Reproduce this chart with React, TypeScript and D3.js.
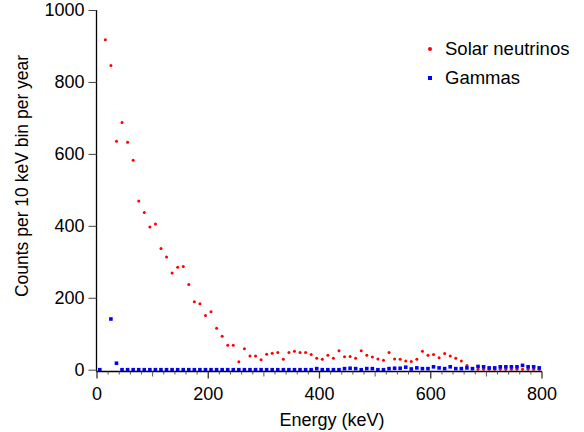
import React, { useEffect, useRef } from 'react';
import * as d3 from 'd3';

// counts per 10 keV bin, first bin centred at 5 keV
const solarNeutrinos = [
  0, 917, 846, 635, 687, 632, 582, 469, 437, 397,
  405, 337, 313, 269, 285, 287, 237, 189, 183, 151,
  161, 115, 93, 68, 68, 22, 58, 38, 38, 28,
  43, 46, 48, 29, 48, 51, 48, 48, 42, 32,
  29, 40, 32, 53, 36, 37, 32, 53, 40, 35,
  30, 26, 48, 30, 29, 24, 23, 29, 51, 40,
  42, 33, 45, 38, 32, 24, 12, 3, 1, 1,
  1, 1, 1, 1, 1, 1, 1, 1, 1, 1,
];

const gammas: (number | null)[] = [
  0, null, 141, 18, 0, 0, 0, 0, 0, 0,
  0, 0, 0, 0, 0, 0, 0, 0, 0, 0,
  0, 0, 0, 0, 0, 0, 0, 0, 0, 0,
  0, 0, 0, 0, 0, 0, 0, 0, 0, 3,
  0, 0, 0, 0, 3, 4, 3, 0, 3, 3,
  0, 0, 3, 4, 4, 7, 2, 5, 3, 3,
  8, 5, 3, 8, 3, 3, 5, 3, 9, 8,
  5, 5, 8, 8, 8, 8, 12, 8, 8, 5,
];

const binWidth = 10;
const xTicks = [0, 200, 400, 600, 800];
const yTicks = [0, 200, 400, 600, 800, 1000];
const legendItems = ['Solar neutrinos', 'Gammas'];

const FONT = '"Liberation Sans", Arial, Helvetica, sans-serif';

function Chart() {
  const ref = useRef<SVGSVGElement>(null);

  useEffect(() => {
    const svg = d3.select(ref.current);
    svg.selectAll('*').remove();

    const x = d3.scaleLinear().domain([0, 800]).range([97, 542]);
    const y = d3.scaleLinear().domain([0, 1000]).range([369.7, 10]);
    const energy = (i: number) => i * binWidth + binWidth / 2;

    // red dots first, blue squares on top
    svg.append('g')
      .selectAll('circle')
      .data(solarNeutrinos)
      .join('circle')
      .attr('cx', (d, i) => x(energy(i)))
      .attr('cy', d => y(d))
      .attr('r', 1.5)
      .attr('fill', '#ff0000');

    const gammaPts = gammas
      .map((v, i) => ({ e: energy(i), v }))
      .filter(d => d.v !== null) as { e: number; v: number }[];

    const sq = 3.6;
    svg.append('g')
      .selectAll('rect')
      .data(gammaPts)
      .join('rect')
      .attr('x', d => x(d.e) - sq / 2)
      .attr('y', d => y(d.v) - sq / 2)
      .attr('width', sq)
      .attr('height', sq)
      .attr('fill', '#0000ff');

    // y axis
    const yAxis = svg.append('g')
      .attr('transform', 'translate(96.5,0)')
      .call(d3.axisLeft(y).tickValues(yTicks).tickSize(8).tickPadding(4).tickFormat(d3.format('d')));
    yAxis.select('.domain').attr('d', `M0,${y(1000)}V371.5`).attr('stroke-width', 1.3);
    yAxis.selectAll('.tick line').attr('stroke', '#444');
    yAxis.selectAll('text').attr('font-size', 18).attr('font-family', FONT).attr('fill', '#000');

    // x axis: minor ticks every 20, medium at 100s, major at 200s
    const xg = svg.append('g').attr('transform', 'translate(0,371.5)');
    xg.append('line')
      .attr('x1', 96.5).attr('x2', x(800))
      .attr('stroke', '#000').attr('stroke-width', 1.3);
    const minor = d3.range(0, 801, 20);
    xg.selectAll('.xt')
      .data(minor)
      .join('line')
      .attr('class', 'xt')
      .attr('x1', d => x(d)).attr('x2', d => x(d))
      .attr('y1', 0)
      .attr('y2', d => (d % 200 === 0 ? 7 : d % 100 === 0 ? 5 : 3))
      .attr('stroke', d => (d % 200 === 0 ? '#333' : '#555'))
      .attr('stroke-width', d => (d % 200 === 0 ? 1.3 : 1));
    xg.selectAll('.xl')
      .data(xTicks)
      .join('text')
      .attr('class', 'xl')
      .attr('x', d => x(d))
      .attr('y', 28)
      .attr('text-anchor', 'middle')
      .attr('font-size', 18)
      .attr('font-family', FONT)
      .text(d => d);

    svg.append('text')
      .attr('x', 332)
      .attr('y', 426)
      .attr('text-anchor', 'middle')
      .attr('font-size', 18)
      .attr('font-family', FONT)
      .text('Energy (keV)');

    svg.append('text')
      .attr('transform', 'translate(28,176) rotate(-90)')
      .attr('text-anchor', 'middle')
      .attr('font-size', 17.5)
      .attr('font-family', FONT)
      .text('Counts per 10 keV bin per year');

    // legend
    const lg = svg.append('g');
    lg.append('circle').attr('cx', 430).attr('cy', 49).attr('r', 2).attr('fill', '#ff0000');
    lg.append('rect').attr('x', 428).attr('y', 76).attr('width', 4).attr('height', 4).attr('fill', '#0000ff');
    lg.selectAll('text')
      .data(legendItems)
      .join('text')
      .attr('x', 445)
      .attr('y', (d, i) => 55 + i * 29)
      .attr('font-size', 18.5)
      .attr('font-family', FONT)
      .text(d => d);
  }, []);

  return (
    <svg
      ref={ref}
      width={584}
      height={432}
      style={{ position: 'absolute', left: 0, top: 0, background: '#fff' }}
    />
  );
}

export default function App() {
  return <Chart />;
}
